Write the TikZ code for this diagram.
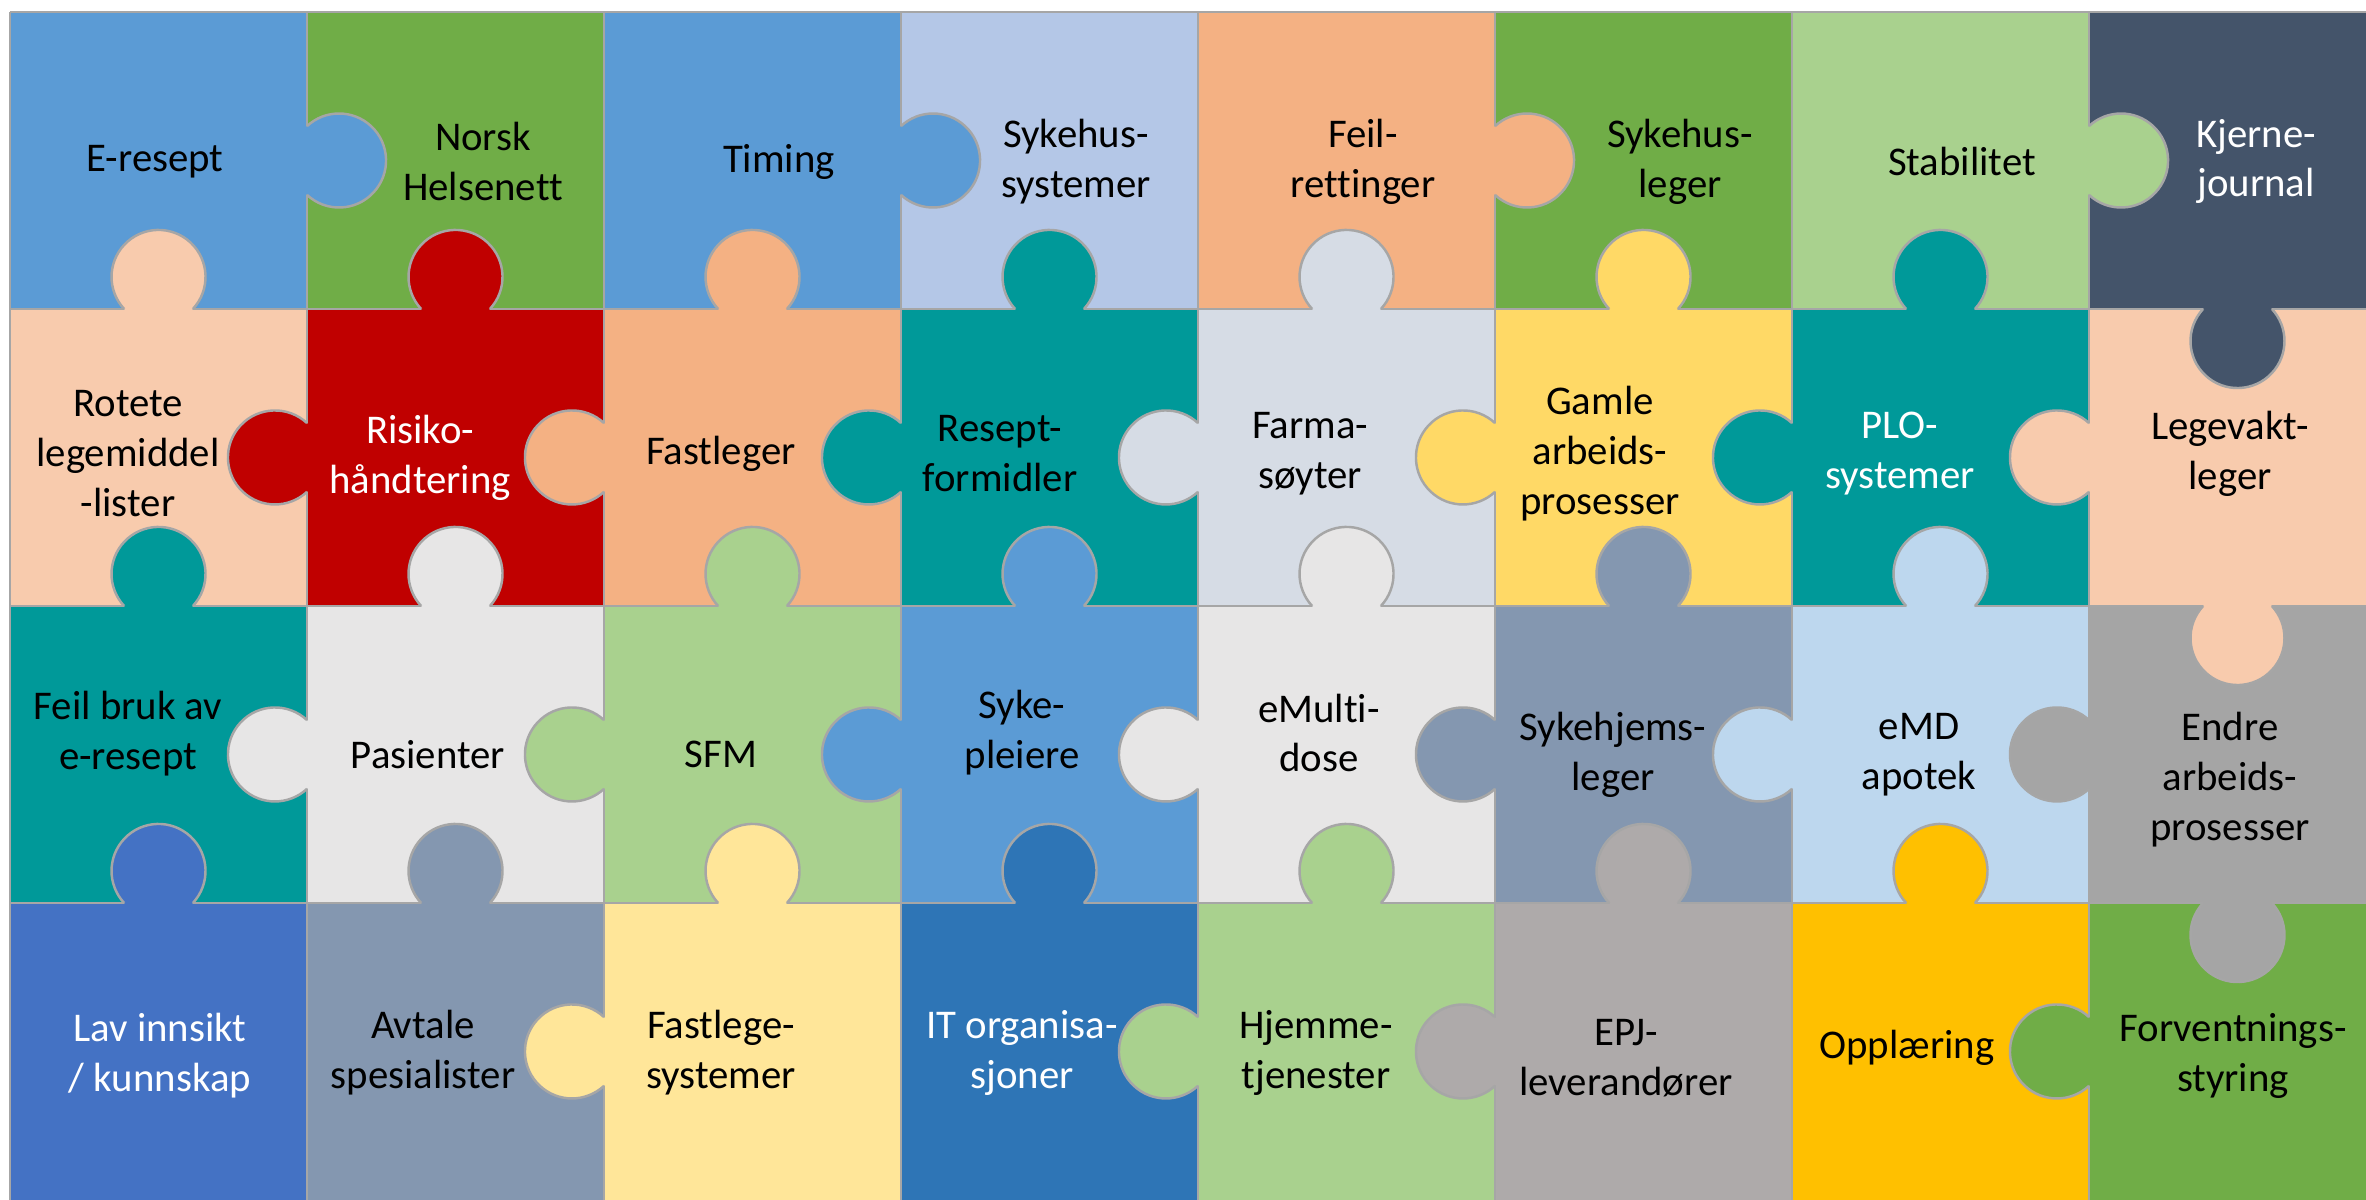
\documentclass[tikz,border=0pt]{standalone}
\usepackage{fontspec}
\setmainfont{Carlito}[Ligatures=NoCommon]
\definecolor{cBlue}{HTML}{5B9BD5}
\definecolor{cGreen}{HTML}{70AD47}
\definecolor{cLtBlue}{HTML}{B4C7E7}
\definecolor{cOrange}{HTML}{F4B183}
\definecolor{cLtGreen}{HTML}{A9D18E}
\definecolor{cNavy}{HTML}{44546A}
\definecolor{cPeach}{HTML}{F8CBAD}
\definecolor{cRed}{HTML}{C00000}
\definecolor{cTeal}{HTML}{009999}
\definecolor{cFarma}{HTML}{D6DCE5}
\definecolor{cYellow}{HTML}{FFD966}
\definecolor{cLtGray}{HTML}{E7E6E6}
\definecolor{cSlate}{HTML}{8497B0}
\definecolor{cPaleBlue}{HTML}{BDD7EE}
\definecolor{cGray}{HTML}{A5A5A5}
\definecolor{cRoyal}{HTML}{4472C4}
\definecolor{cPaleYellow}{HTML}{FFE699}
\definecolor{cDkBlue}{HTML}{2E75B6}
\definecolor{cTaupe}{HTML}{AEAAAA}
\definecolor{cGold}{HTML}{FFC000}
\definecolor{cEdge}{HTML}{A6A6A6}
\tikzset{
  edgeline/.style={draw=cEdge,line width=0.7pt},
  lbl/.style={align=center,inner sep=0pt,font=\fontsize{11.6}{14.2}\selectfont,text=black},
  wlbl/.style={lbl,text=white}
}
\newcommand\cell[3]{\fill[#3] ({10+297*(#1-1)},{1188-297*#2}) rectangle ++(297,297);}
\newcommand\knob[4]{%
  \begin{scope}[shift={(#1,#2)},rotate=#3]
    \fill[#4] (32,0) circle[radius=47];
    \draw[edgeline] (0,-34.4) arc[start angle=-133,end angle=133,radius=47];
  \end{scope}}
\begin{document}
\begin{tikzpicture}[x=0.01cm,y=0.01cm]
\useasboundingbox (0,0) rectangle (2366,1200);
\fill[white] (0,0) rectangle (2366,1200);
\clip (0,0) rectangle (2366,1200);
% row 1
\cell{1}{1}{cBlue} \cell{2}{1}{cGreen} \cell{3}{1}{cBlue} \cell{4}{1}{cLtBlue}
\cell{5}{1}{cOrange} \cell{6}{1}{cGreen} \cell{7}{1}{cLtGreen} \cell{8}{1}{cNavy}
% row 2
\cell{1}{2}{cPeach} \cell{2}{2}{cRed} \cell{3}{2}{cOrange} \cell{4}{2}{cTeal}
\cell{5}{2}{cFarma} \cell{6}{2}{cYellow} \cell{7}{2}{cTeal} \cell{8}{2}{cPeach}
% row 3
\cell{1}{3}{cTeal} \cell{2}{3}{cLtGray} \cell{3}{3}{cLtGreen} \cell{4}{3}{cBlue}
\cell{5}{3}{cLtGray} \cell{6}{3}{cSlate} \cell{7}{3}{cPaleBlue} \cell{8}{3}{cGray}
% row 4
\cell{1}{4}{cRoyal} \cell{2}{4}{cSlate} \cell{3}{4}{cPaleYellow} \cell{4}{4}{cDkBlue}
\cell{5}{4}{cLtGreen} \cell{6}{4}{cTaupe} \cell{7}{4}{cGold} \cell{8}{4}{cGreen}
% grid lines
\foreach \c in {0,...,7} \draw[edgeline] ({10+297*\c},0) -- ({10+297*\c},1188);
\foreach \r in {0,...,3} \draw[edgeline] (10,{1188-297*\r}) -- (2366,{1188-297*\r});
% knobs row 1 sides
\knob{307}{1039.5}{0}{cBlue}
\knob{901}{1039.5}{0}{cBlue}
\knob{1495}{1039.5}{0}{cOrange}
\knob{2089}{1039.5}{0}{cLtGreen}
% edge r1/r2
\knob{158.5}{891}{90}{cPeach}
\knob{455.5}{891}{90}{cRed}
\knob{752.5}{891}{90}{cOrange}
\knob{1049.5}{891}{90}{cTeal}
\knob{1346.5}{891}{90}{cFarma}
\knob{1643.5}{891}{90}{cYellow}
\knob{1940.5}{891}{90}{cTeal}
\knob{2237.5}{891}{270}{cNavy}
% row 2 sides
\knob{307}{742.5}{180}{cRed}
\knob{604}{742.5}{180}{cOrange}
\knob{901}{742.5}{180}{cTeal}
\knob{1198}{742.5}{180}{cFarma}
\knob{1495}{742.5}{180}{cYellow}
\knob{1792}{742.5}{180}{cTeal}
\knob{2089}{742.5}{180}{cPeach}
% edge r2/r3
\knob{158.5}{594}{90}{cTeal}
\knob{455.5}{594}{90}{cLtGray}
\knob{752.5}{594}{90}{cLtGreen}
\knob{1049.5}{594}{90}{cBlue}
\knob{1346.5}{594}{90}{cLtGray}
\knob{1643.5}{594}{90}{cSlate}
\knob{1940.5}{594}{90}{cPaleBlue}
\knob{2237.5}{594}{270}{cPeach}
% row 3 sides
\knob{307}{445.5}{180}{cLtGray}
\knob{604}{445.5}{180}{cLtGreen}
\knob{901}{445.5}{180}{cBlue}
\knob{1198}{445.5}{180}{cLtGray}
\knob{1495}{445.5}{180}{cSlate}
\knob{1792}{445.5}{180}{cPaleBlue}
\knob{2089}{445.5}{180}{cGray}
% edge r3/r4
\knob{158.5}{297}{90}{cRoyal}
\knob{455.5}{297}{90}{cSlate}
\knob{752.5}{297}{90}{cPaleYellow}
\knob{1049.5}{297}{90}{cDkBlue}
\knob{1346.5}{297}{90}{cLtGreen}
\knob{1643.5}{297}{90}{cTaupe}
\knob{1940.5}{297}{90}{cGold}
\knob{2237.5}{297}{270}{cGray}
% row 4 sides
\knob{604}{148.5}{180}{cPaleYellow}
\knob{1198}{148.5}{180}{cLtGreen}
\knob{1495}{148.5}{180}{cTaupe}
\knob{2089}{148.5}{180}{cGreen}
% labels row 1
\node[lbl] (t11) at (155,1038.5) {E-resept};
\node[lbl] (t12) at (483,1038.5) {Norsk\\Helsenett};
\node[lbl] (t13) at (779,1038.5) {Timing};
\node[lbl] (t14) at (1076,1038.5) {Sykehus-\\systemer};
\node[lbl] (t15) at (1363,1038.5) {Feil-\\rettinger};
\node[lbl] (t16) at (1680,1038.5) {Sykehus-\\leger};
\node[lbl] (t17) at (1962,1038.5) {Stabilitet};
\node[wlbl] (t18) at (2256,1038.5) {Kjerne-\\journal};
% labels row 2
\node[lbl] (t21) at (128,746) {Rotete\\legemiddel\\-lister};
\node[wlbl] (t22) at (420,742) {Risiko-\\håndtering};
\node[lbl] (t23) at (721,746) {Fastleger};
\node[lbl] (t24) at (1000,746) {Resept-\\formidler};
\node[lbl] (t25) at (1310,746) {Farma-\\søyter};
\node[lbl] (t26) at (1600,746) {Gamle\\arbeids-\\prosesser};
\node[wlbl] (t27) at (1900,746) {PLO-\\systemer};
\node[lbl] (t28) at (2230,746) {Legevakt-\\leger};
% labels row 3
\node[lbl] (t31) at (128,466) {Feil bruk av\\e-resept};
\node[lbl] (t32) at (428,445.5) {Pasienter};
\node[lbl] (t33) at (721,445.5) {SFM};
\node[lbl] (t34) at (1022,467) {Syke-\\pleiere};
\node[lbl] (t35) at (1319,467) {eMulti-\\dose};
\node[lbl] (t36) at (1613,445.5) {Sykehjems-\\leger};
\node[lbl] (t37) at (1919,445.5) {eMD\\apotek};
\node[lbl] (t38) at (2230,420) {Endre\\arbeids-\\prosesser};
% labels row 4
\node[wlbl] (t41) at (160,144) {Lav innsikt\\/ kunnskap};
\node[lbl] (t42) at (423,147) {Avtale\\spesialister};
\node[lbl] (t43) at (721,147) {Fastlege-\\systemer};
\node[wlbl] (t44) at (1022,147) {IT organisa-\\sjoner};
\node[lbl] (t45) at (1316,147) {Hjemme-\\tjenester};
\node[lbl] (t46) at (1626,142) {EPJ-\\leverandører};
\node[lbl] (t47) at (1907,152) {Opplæring};
\node[lbl] (t48) at (2233,144) {Forventnings-\\styring};
\end{tikzpicture}
\end{document}
